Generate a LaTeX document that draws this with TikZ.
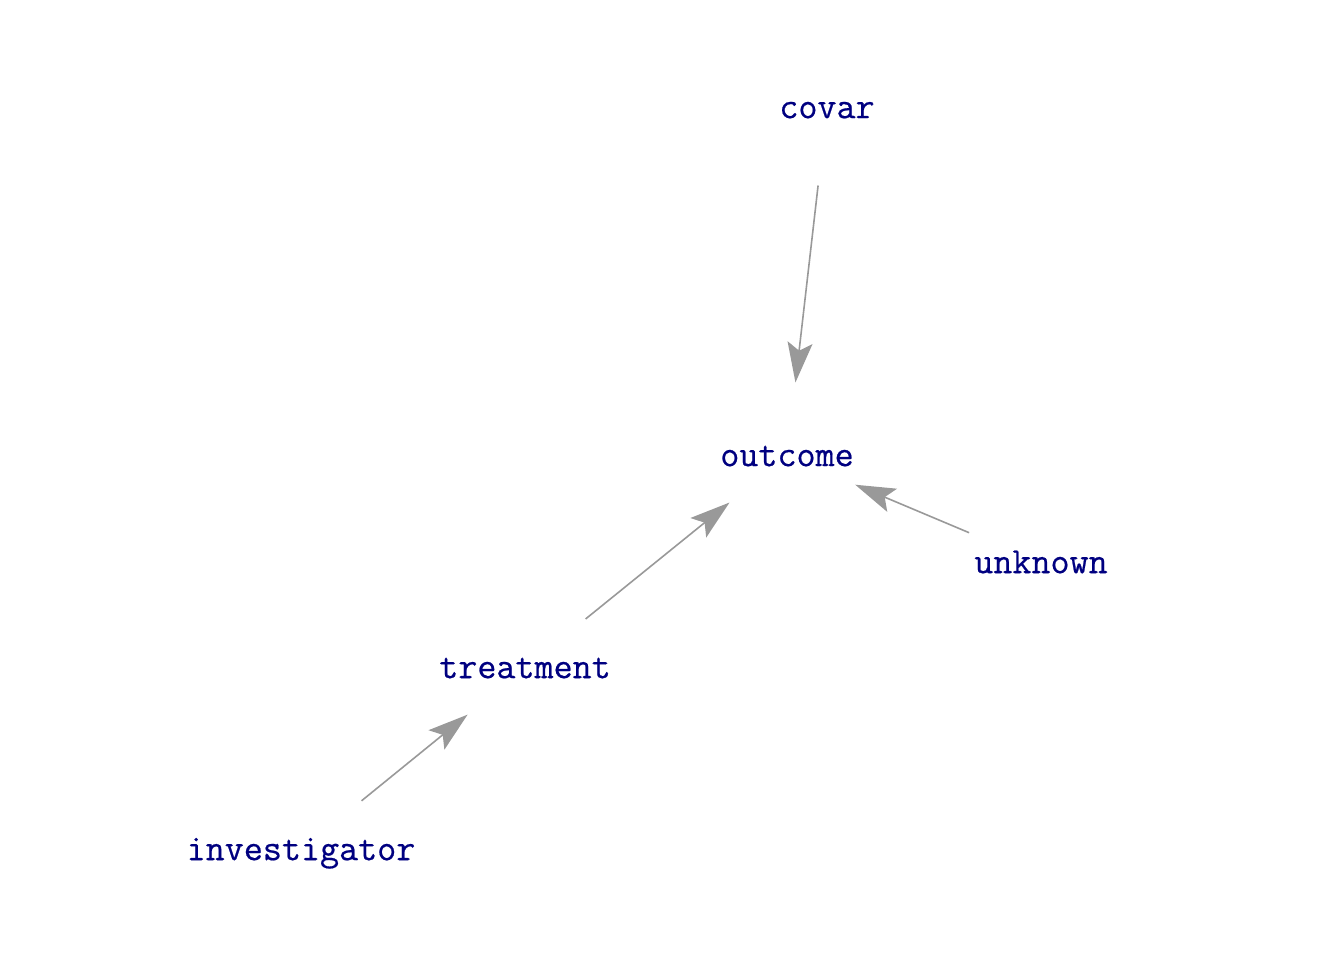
\documentclass[tikz,border=0pt]{standalone}
\usepackage{fontspec}
\newfontfamily\dagfont[FakeBold=0.5]{Latin Modern Mono}
\usetikzlibrary{arrows.meta}
\definecolor{navytext}{RGB}{0,0,128}
\definecolor{edgegray}{RGB}{153,153,153}
\tikzset{
  dagnode/.style={text=navytext, font=\dagfont\fontsize{37}{40}\selectfont, inner sep=0pt, anchor=mid, yshift=-8pt},
  dagedge/.style={draw=edgegray, line width=1.6pt, shorten <=78pt, shorten >=74pt,
    -{Stealth[length=40pt, width=25pt, inset=8pt]}}
}
\begin{document}
\begin{tikzpicture}[x=1pt, y=-1pt]
  \useasboundingbox (0,0) rectangle (1344,960);
  \coordinate (pcovar) at (827,108);
  \coordinate (poutcome) at (787,456);
  \coordinate (punknown) at (1041,563);
  \coordinate (ptreatment) at (525,668);
  \coordinate (pinvestigator) at (301,850);
  \node[dagnode] (covar) at (pcovar) {covar};
  \node[dagnode] (outcome) at (poutcome) {outcome};
  \node[dagnode] (unknown) at (punknown) {unknown};
  \node[dagnode] (treatment) at (ptreatment) {treatment};
  \node[dagnode] (investigator) at (pinvestigator) {investigator};
  \draw[dagedge] (pcovar) -- (poutcome);
  \draw[dagedge] (punknown) -- (poutcome);
  \draw[dagedge] (ptreatment) -- (poutcome);
  \draw[dagedge] (pinvestigator) -- (ptreatment);
\end{tikzpicture}
\end{document}
